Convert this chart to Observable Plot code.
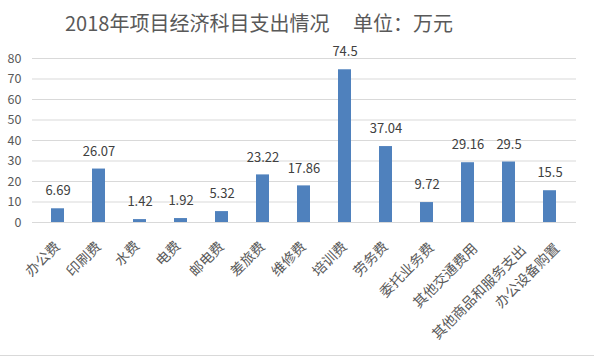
<!DOCTYPE html>
<html>
<head>
<meta charset="utf-8">
<script src="https://cdn.jsdelivr.net/npm/d3@7"></script>
<script src="https://cdn.jsdelivr.net/npm/@observablehq/plot@0.6"></script>
<style>
  html, body { margin: 0; padding: 0; background: #fff; }
  #wrap { position: relative; width: 594px; height: 358px; overflow: hidden; }
  #title { position: relative; height: 45px; font-family: "Noto Sans CJK SC", sans-serif; font-size: 20px; color: #595959; white-space: nowrap; }
  #title span { position: absolute; top: 0; line-height: 45px; }
  #border { position: absolute; left: 0; top: 355px; width: 594px; height: 1px; background: #d9d9d9; }
</style>
</head>
<body>
<div id="wrap">
  <div id="title"><span style="left:65px">2018年项目经济科目支出情况</span><span style="left:353px">单位：万元</span></div>
  <div id="chart"></div>
  <div id="border"></div>
</div>
<script>
const categories = ["办公费","印刷费","水费","电费","邮电费","差旅费","维修费","培训费","劳务费","委托业务费","其他交通费用","其他商品和服务支出","办公设备购置"];
const values = [6.69, 26.07, 1.42, 1.92, 5.32, 23.22, 17.86, 74.5, 37.04, 9.72, 29.16, 29.5, 15.5];
const valueLabels = ["6.69","26.07","1.42","1.92","5.32","23.22","17.86","74.5","37.04","9.72","29.16","29.5","15.5"];
const yTicks = [0, 10, 20, 30, 40, 50, 60, 70, 80];

const data = categories.map((c, i) => ({name: c, value: values[i], label: valueLabels[i]}));
const font = "Noto Sans CJK SC, sans-serif";

const catMarks = categories.map(c => Plot.text([c], {
  x: d => d,
  text: d => d,
  frameAnchor: "bottom",
  rotate: -45,
  textAnchor: "end",
  lineAnchor: "bottom",
  dx: 2.5 * c.length - 4.5,
  dy: 25 + 0.6 * (c.length - 3),
  fill: "#595959",
  fontSize: 14,
  fontFamily: font
}));

const chart = Plot.plot({
  width: 594,
  height: 313,
  marginTop: 13,
  marginBottom: 136,
  marginLeft: 32,
  marginRight: 18,
  style: {fontFamily: font, background: "#fff", overflow: "visible"},
  x: {domain: categories, paddingInner: 0.68, paddingOuter: 0.34, axis: null},
  y: {domain: [0, 80], ticks: yTicks, axis: null},
  marks: [
    Plot.gridY(yTicks, {stroke: "#d9d9d9", strokeOpacity: 1}),
    Plot.axisY(yTicks, {tickSize: 0, tickPadding: 11, label: null, fontSize: 12.5, color: "#595959", fill: "#595959", fontFamily: font}),
    Plot.barY(data, {x: "name", y: "value", fill: "#4f81bd"}),
    Plot.text(data, {x: "name", y: "value", text: "label", dy: -17.5, fill: "#404040", fontSize: 13, fontFamily: font}),
    ...catMarks
  ]
});
document.getElementById("chart").appendChild(chart);
</script>
</body>
</html>
